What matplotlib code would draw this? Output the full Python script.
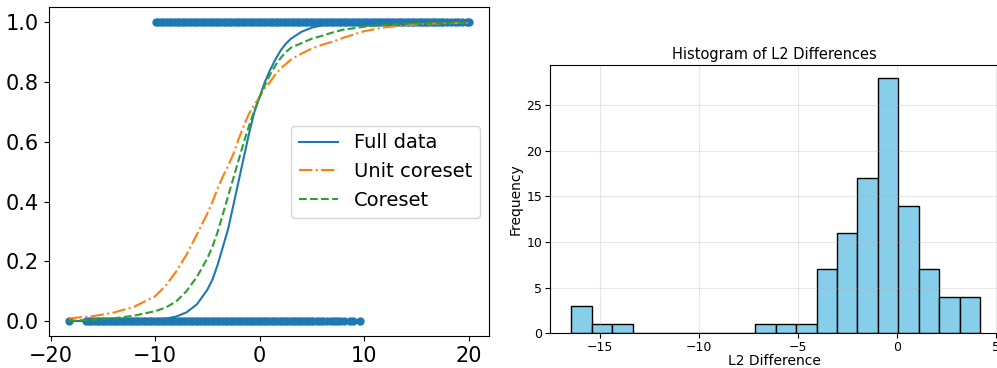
import numpy as np
import matplotlib
matplotlib.use("Agg")
import matplotlib.pyplot as plt

# observations with label 0
x_neg = [-18.26,
         -16.6, -16.35, -16.1, -15.85, -15.6, -15.35, -15.1, -14.85, -14.6,
         -14.35, -14.1, -13.85, -13.6, -13.35, -13.1, -12.85, -12.6, -12.35,
         -12.1, -11.85, -11.6, -11.35, -11.1, -10.85, -10.6, -10.35, -10.1,
         -9.85, -9.6, -9.35, -9.1, -8.85, -8.6, -8.35, -8.1, -7.85, -7.6,
         -7.35, -7.1, -6.85, -6.6, -6.35, -6.1, -5.85, -5.6, -5.35, -5.1,
         -4.85, -4.6, -4.35, -4.1, -3.85, -3.6, -3.35, -3.1, -2.85, -2.6,
         -2.35, -2.1, -1.85, -1.6, -1.35, -1.1, -0.85, -0.6, -0.35, -0.1,
         0.15, 0.4, 0.65, 0.9, 1.15, 1.4, 1.65, 1.9, 2.15, 2.4, 2.65, 2.9,
         3.15, 3.4, 3.65, 3.9, 4.15, 4.4, 4.65, 4.9, 5.15,
         5.5, 5.8, 6.1, 6.4, 6.8, 7.1, 7.4, 7.7, 8.1, 8.6, 8.9, 9.56]
# observations with label 1
x_pos = [-9.95, -9.7, -9.45, -9.2, -8.95, -8.7, -8.45, -8.2, -7.95, -7.7,
         -7.45, -7.2, -6.95, -6.7, -6.45, -6.2, -5.95, -5.7, -5.45, -5.2,
         -4.95, -4.7, -4.45, -4.2, -3.95, -3.7, -3.45, -3.2, -2.95, -2.7,
         -2.45, -2.2, -1.95, -1.7, -1.45, -1.2, -0.95, -0.7, -0.45, -0.2,
         0.05, 0.3, 0.55, 0.8, 1.05, 1.3, 1.55, 1.8, 2.05, 2.3, 2.55, 2.8,
         3.05, 3.3, 3.55, 3.8, 4.05, 4.3, 4.55, 4.8, 5.05, 5.3, 5.55, 5.8,
         6.05, 6.3, 6.55, 6.8, 7.05, 7.3, 7.55, 7.8, 8.05, 8.3, 8.55, 8.8,
         9.05, 9.3, 9.55, 9.8, 10.05, 10.3, 10.55, 10.8, 11.05, 11.3, 11.55,
         11.8, 12.05, 12.3, 12.55, 12.8, 13.05, 13.3, 13.55, 13.8, 14.05,
         14.3, 14.55, 14.8, 15.05, 15.3, 15.55, 15.8, 16.05, 16.3, 16.55,
         16.8, 17.05, 17.3, 17.55,
         17.9, 18.3, 18.7, 19.0, 19.4, 19.8, 20.05]

# fitted probability curves
x_curve = [-18.26, -16, -14, -12, -10, -9, -8, -7, -6, -5, -4.5, -4, -3.5, -3,
           -2.5, -2, -1.5, -1, -0.5, 0, 0.5, 1, 1.5, 2, 2.5, 3, 4, 5, 6, 7,
           8, 10, 12, 14, 16, 18, 20.05]
p_full = [0.0, 0.0001, 0.0003, 0.001, 0.004, 0.008, 0.015, 0.029, 0.056, 0.105,
          0.14, 0.19, 0.25, 0.31, 0.39, 0.47, 0.55, 0.63, 0.70, 0.75, 0.80,
          0.84, 0.875, 0.905, 0.928, 0.945, 0.968, 0.982, 0.990, 0.994,
          0.997, 0.999, 1.0, 1.0, 1.0, 1.0, 1.0]
p_unit = [0.009, 0.016, 0.028, 0.048, 0.083, 0.118, 0.165, 0.222, 0.29, 0.36,
          0.40, 0.445, 0.485, 0.52, 0.56, 0.61, 0.655, 0.695, 0.725, 0.75,
          0.78, 0.80, 0.825, 0.845, 0.86, 0.875, 0.895, 0.912, 0.925, 0.935,
          0.948, 0.97, 0.983, 0.99, 0.995, 0.997, 0.998]
p_core = [0.001, 0.004, 0.009, 0.018, 0.033, 0.045, 0.065, 0.10, 0.148, 0.21,
          0.25, 0.30, 0.36, 0.42, 0.48, 0.54, 0.60, 0.655, 0.705, 0.75, 0.79,
          0.825, 0.855, 0.88, 0.90, 0.915, 0.93, 0.945, 0.955, 0.966, 0.975,
          0.985, 0.992, 0.995, 0.997, 0.998, 0.999]

# histogram of L2 differences
bin_lo, bin_hi = -16.46, 4.18
counts = [3, 1, 1, 0, 0, 0, 0, 0, 0, 1, 1, 1, 7, 11, 17, 28, 14, 7, 4, 4]

fig = plt.figure(figsize=(9.97, 3.68), dpi=100)
W, H = 997, 368
ax1 = fig.add_axes([48.7 / W, (H - 336) / H, (489.3 - 48.7) / W, (336 - 7.3) / H])
ax2 = fig.add_axes([550 / W, (H - 333.3) / H, (999 - 550) / W, (333.3 - 65) / H])

ax1.scatter(x_neg, np.zeros(len(x_neg)), color="C0", linewidths=0)
ax1.scatter(x_pos, np.ones(len(x_pos)), color="C0", linewidths=0)
ax1.plot(x_curve, p_full, "-", color="C0", label="Full data")
ax1.plot(x_curve, p_unit, "-.", color="C1", label="Unit coreset")
ax1.plot(x_curve, p_core, "--", color="C2", label="Coreset")
ax1.set_xticks([-20, -10, 0, 10, 20])
ax1.tick_params(labelsize=15)
ax1.legend(loc="center right", fontsize=14)

edges = np.linspace(bin_lo, bin_hi, len(counts) + 1)
ax2.bar(edges[:-1], counts, width=np.diff(edges), align="edge",
        color="skyblue", edgecolor="black")
ax2.set_xlim(-17.54, 5.14)
ax2.set_ylim(0, 29.4)
ax2.set_xticks([-15, -10, -5, 0, 5])
ax2.set_yticks([0, 5, 10, 15, 20, 25])
ax2.grid(alpha=0.3)
ax2.tick_params(labelsize=9, pad=2)
ax2.set_title("Histogram of L2 Differences", fontsize=10.5, pad=4)
ax2.set_xlabel("L2 Difference", fontsize=10, labelpad=0)
ax2.set_ylabel("Frequency", fontsize=10, labelpad=3)

fig.savefig("out.png", dpi=100)
